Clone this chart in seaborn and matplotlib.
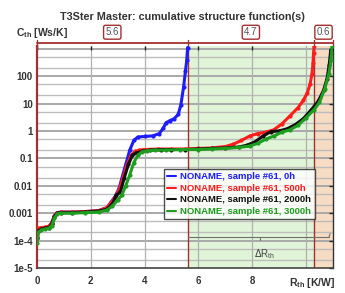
import numpy as np
import pandas as pd
import matplotlib
matplotlib.use("Agg")
import matplotlib.pyplot as plt
import matplotlib.transforms as mtransforms
import seaborn as sns

# ---------------- data ----------------
r_0h = [0.0, 0.05, 0.15, 0.3, 0.45, 0.55, 0.65, 0.75, 0.9, 1.3, 1.8, 2.3, 2.6, 2.75, 2.9, 3.05,
        3.15, 3.3, 3.45, 3.6, 3.75, 4.0, 4.3, 4.55, 4.7, 4.8, 4.95, 5.1, 5.25, 5.35, 5.45, 5.52, 5.57, 5.6]
c_0h = [1.2e-4, 2.3e-4, 2.7e-4, 2.9e-4, 3.2e-4, 4.5e-4, 8e-4, 1.05e-3, 1.1e-3, 1.1e-3, 1.15e-3, 1.25e-3,
        1.6e-3, 2.5e-3, 4e-3, 8e-3, 0.018, 0.06, 0.2, 0.45, 0.6, 0.63, 0.66, 0.8, 1.3, 2.0, 2.4, 2.8,
        4.0, 9, 40, 150, 400, 1100]

r_500h = [0.0, 0.05, 0.15, 0.3, 0.45, 0.55, 0.65, 0.75, 0.9, 1.3, 1.8, 2.3, 2.6, 2.75, 2.9, 3.05, 3.2,
          3.35, 3.5, 3.65, 3.8, 4.0, 4.5, 5.0, 5.5, 6.0, 6.5, 7.0, 7.3, 7.6, 7.9, 8.2, 8.5, 8.8, 9.1,
          9.4, 9.7, 9.9, 10.05, 10.15, 10.22, 10.26, 10.28, 10.3]
c_500h = [1.5e-4, 2.8e-4, 3e-4, 3.1e-4, 3.4e-4, 4.5e-4, 8e-4, 1.05e-3, 1.1e-3, 1.1e-3, 1.15e-3, 1.25e-3,
          1.6e-3, 2.4e-3, 3.8e-3, 7e-3, 0.02, 0.06, 0.13, 0.18, 0.2, 0.21, 0.22, 0.22, 0.22, 0.23, 0.24,
          0.27, 0.33, 0.45, 0.65, 0.8, 0.9, 1.1, 1.8, 3.5, 7, 13, 25, 50, 120, 300, 700, 1200]

r_2000h = [0.0, 0.05, 0.15, 0.3, 0.45, 0.55, 0.65, 0.75, 0.9, 1.3, 1.8, 2.3, 2.6, 2.8, 2.95, 3.1, 3.25,
           3.4, 3.55, 3.7, 3.9, 4.2, 4.6, 5.0, 5.5, 6.0, 6.5, 7.0, 7.5, 7.8, 8.1, 8.4, 8.7, 9.0, 9.3,
           9.6, 9.9, 10.2, 10.45, 10.65, 10.78, 10.86, 10.92]
c_2000h = [1.2e-4, 2.3e-4, 2.6e-4, 2.8e-4, 3e-4, 4e-4, 7.5e-4, 1.0e-3, 1.05e-3, 1.05e-3, 1.1e-3, 1.2e-3,
           1.4e-3, 2.2e-3, 4.5e-3, 6e-3, 0.02, 0.06, 0.13, 0.16, 0.18, 0.2, 0.21, 0.21, 0.21, 0.22, 0.23,
           0.24, 0.26, 0.3, 0.4, 0.65, 0.95, 1.0, 1.2, 1.7, 2.8, 6, 12, 30, 80, 250, 900]

r_3000h = [0.0, 0.05, 0.15, 0.3, 0.45, 0.55, 0.65, 0.75, 0.9, 1.3, 1.8, 2.3, 2.6, 2.8, 3.0, 3.15, 3.3,
           3.45, 3.6, 3.75, 3.9, 4.1, 4.4, 4.8, 5.3, 6.0, 6.5, 7.0, 7.5, 7.9, 8.2, 8.5, 8.8, 9.1, 9.4,
           9.7, 10.0, 10.3, 10.5, 10.7, 10.85, 10.93, 10.97]
c_3000h = [8e-5, 2e-4, 2.4e-4, 2.6e-4, 2.8e-4, 3.5e-4, 6.5e-4, 9.5e-4, 1.0e-3, 1.0e-3, 1.05e-3, 1.1e-3,
           1.3e-3, 1.8e-3, 3e-3, 4.5e-3, 0.01, 0.025, 0.07, 0.13, 0.17, 0.19, 0.2, 0.2, 0.21, 0.21, 0.22,
           0.23, 0.25, 0.28, 0.35, 0.5, 0.65, 0.9, 1.1, 1.6, 3.0, 6, 11, 35, 120, 400, 1200]

series_names = ["NONAME, sample #61, 0h", "NONAME, sample #61, 500h",
                "NONAME, sample #61, 2000h", "NONAME, sample #61, 3000h"]
series_colors = ["#1c1cff", "#ff1c1c", "#111111", "#1e9e1e"]

region_edges = [0.0, 5.6, 10.3, 10.9]
region_labels = ["5.6", "4.7", "0.6"]

y_ticks = [1e-5, 1e-4, 1e-3, 1e-2, 1e-1, 1, 10, 100]
y_ticklabels = ["1e-5", "1e-4", "0.001", "0.01", "0.1", "1", "10", "100"]
x_ticks = [0, 2, 4, 6, 8]

# ---------------- frame ----------------
frames = []
for name, r, c in zip(series_names, [r_0h, r_500h, r_2000h, r_3000h],
                      [c_0h, c_500h, c_2000h, c_3000h]):
    frames.append(pd.DataFrame({"R": r, "C": c, "series": name}))
df = pd.concat(frames, ignore_index=True)

sns.set_style("white")
plt.rcParams["font.family"] = ["Liberation Sans", "DejaVu Sans"]

fig = plt.figure(figsize=(3.45, 2.93), dpi=100)
ax = fig.add_axes([0.107, 0.085, 0.858, 0.758])
ax.set_yscale("log")
ax.set_xlim(0, 11.0)
ax.set_ylim(1e-5, 1.25e3)

dark_red = "#a33030"
# shaded regions
ax.axvspan(region_edges[1], region_edges[2], color="#e0f4d8", zorder=0, lw=0)
ax.axvspan(region_edges[2], 11.0, color="#f6dcc2", zorder=0, lw=0)

# grid
for dec in range(-5, 4):
    for s in (1, 2, 5):
        v = s * 10.0 ** dec
        if 1e-5 < v < 1.25e3:
            ax.axhline(v, color="#a8a8a8" if s == 1 else "#bdbdbd",
                       lw=1.4 if s == 1 else 1.0, zorder=0.5)
for xv in [2, 4, 6, 8, 10]:
    ax.axvline(xv, color="#b0b0b0", lw=0.9, zorder=0.5)

for xe in region_edges[1:3]:
    ax.axvline(xe, color=dark_red, lw=1.0, zorder=1)

sns.lineplot(data=df, x="R", y="C", hue="series", palette=series_colors,
             hue_order=series_names, sort=False, estimator=None, marker="o",
             markersize=3.0, markeredgewidth=0, linewidth=2.2, ax=ax, zorder=3)

# axes styling
ax.set_xticks(x_ticks)
ax.set_xticklabels([str(v) for v in x_ticks], fontsize=7, fontweight="bold", color="#333333")
ax.set_yticks(y_ticks)
ax.set_yticklabels(y_ticklabels, fontsize=7, fontweight="bold", color="#333333")
ax.yaxis.set_minor_locator(matplotlib.ticker.LogLocator(subs=(2, 5)))
ax.yaxis.set_minor_formatter(matplotlib.ticker.NullFormatter())
ax.tick_params(axis="both", which="both", direction="in", length=3, width=1, pad=3, right=True,
               top=True)
ax.tick_params(axis="x", pad=6)
ax.set_xlabel("")
ax.set_ylabel("")
for sp in ["top"]:
    ax.spines[sp].set_visible(False)
ax.spines["left"].set_color(dark_red)
ax.spines["left"].set_linewidth(1.6)
ax.spines["bottom"].set_color("#444444")
ax.spines["bottom"].set_linewidth(1.2)
ax.spines["right"].set_color("#333333")
ax.spines["right"].set_linewidth(1.0)

# top region bar
trans = mtransforms.blended_transform_factory(ax.transData, ax.transAxes)
ax.plot([0, 11.0], [1.013, 1.013], color=dark_red, lw=1.3, transform=trans, clip_on=False)
for xe in region_edges[:3] + [11.0]:
    ax.plot([xe, xe], [0.995, 1.028], color=dark_red, lw=1.0, transform=trans, clip_on=False)
for i, lab in enumerate(region_labels):
    xc = (region_edges[i] + (region_edges[i + 1] if i < 2 else 11.0)) / 2
    if i == 2:
        xc = 10.65
    ax.text(xc, 1.062, lab, transform=trans, ha="center", va="center", fontsize=7,
            color="#555555",
            bbox=dict(boxstyle="round,pad=0.2", fc="white", ec=dark_red, lw=1.0))

# Delta R_th dimension line
ax.plot([5.6, 10.85], [1.35e-4, 1.35e-4], color="#707070", lw=0.8, zorder=2)
ax.plot([10.85, 10.9], [1.35e-4, 1.8e-4], color="#707070", lw=0.8, zorder=2)
ax.plot([8.3, 8.3], [1.35e-4, 1.1e-4], color="#707070", lw=0.8, zorder=2)
ax.text(8.45, 3.2e-5, r"$\Delta$R$_{\mathregular{th}}$", ha="center", va="center", fontsize=7,
        color="#444444")

# legend
handles, labels = ax.get_legend_handles_labels()
leg = ax.legend(handles, labels, loc="upper left", bbox_to_anchor=(0.413, 0.468),
                frameon=True, fancybox=False, edgecolor="#222222",
                handlelength=0.9, handletextpad=0.5, borderpad=0.35, labelspacing=0.28,
                labelcolor="linecolor", prop={"weight": "bold", "size": 6.8})
leg.get_frame().set_linewidth(1.0)
for h in leg.legend_handles:
    h.set_marker("")
    h.set_linewidth(1.5)

# titles
fig.text(0.528, 0.942, "T3Ster Master: cumulative structure function(s)", ha="center",
         va="center", fontsize=7.8, fontweight="bold", color="#333333")
fig.text(0.045, 0.887, r"C$_{\mathregular{th}}$ [Ws/K]", ha="left", va="center", fontsize=7.5,
         fontweight="bold", color="#333333")
fig.text(0.972, 0.034, r"R$_{\mathregular{th}}$ [K/W]", ha="right", va="center", fontsize=7.5,
         fontweight="bold", color="#333333")

fig.savefig("out.png", dpi=100)
